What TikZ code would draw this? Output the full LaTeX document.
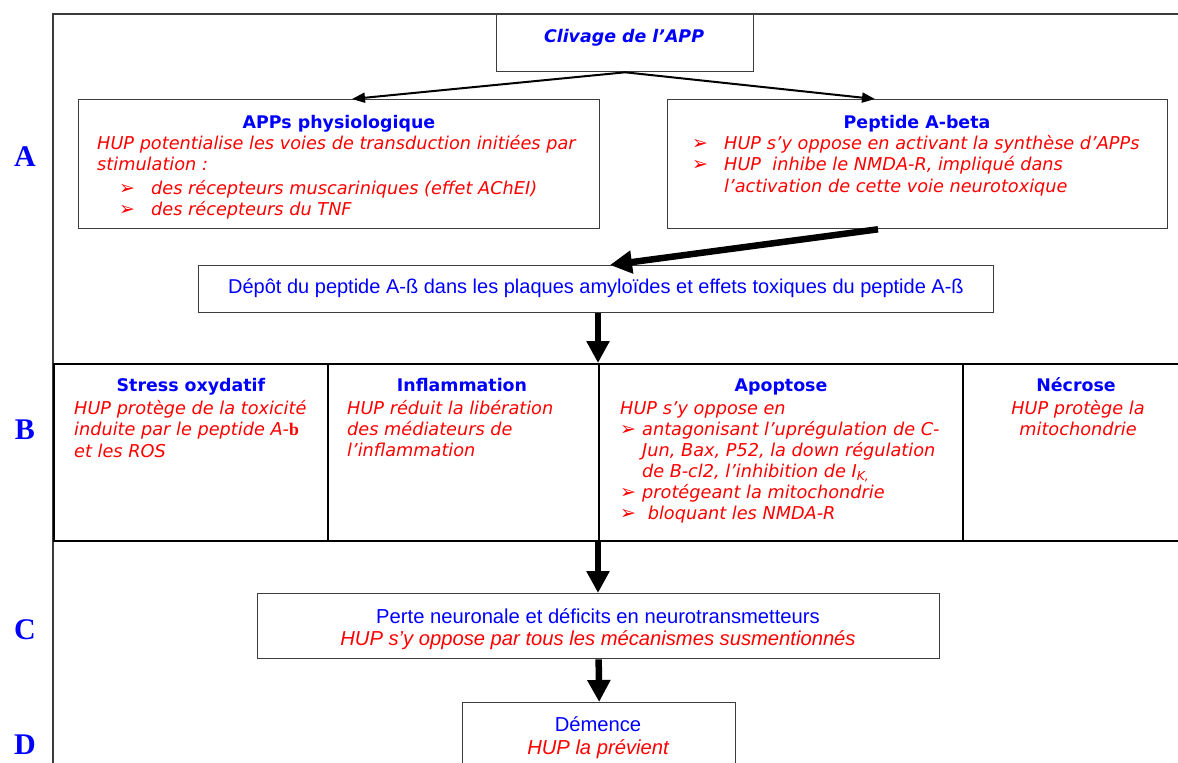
\documentclass[tikz,border=0pt]{standalone}
\usepackage{fontspec}
\setmainfont{DejaVu Sans}
\newfontfamily\ari{Liberation Sans}
\newfontfamily\tms{Liberation Serif}
\usetikzlibrary{arrows.meta,calc}
\definecolor{fblue}{RGB}{0,0,255}
\definecolor{fred}{RGB}{255,0,0}
\definecolor{fline}{RGB}{60,60,60}
\newcommand{\bulA}{\makebox[32pt][l]{\fontsize{19}{19}\selectfont\upshape ➢}}
\newcommand{\bulB}{\makebox[22pt][l]{\fontsize{19}{19}\selectfont\upshape ➢}}
\begin{document}
\begin{tikzpicture}[x=1pt,y=-1pt,
 box/.style={draw=fline,line width=1.3pt,inner sep=0pt,anchor=north west},
 cell/.style={draw=black,line width=1.6pt,inner sep=0pt,anchor=north west},
 ttl/.style={text=fblue,font=\fontsize{17.4}{20}\selectfont\bfseries,anchor=base,inner sep=0pt},
 bdy/.style={text=fred,font=\fontsize{17.7}{21}\selectfont\itshape,anchor=north west,inner sep=0pt,align=left},
 thinarr/.style={line width=2pt,-{Triangle[length=13pt,width=10pt]}},
 thickarr/.style={line width=6.5pt,-{Triangle[length=22pt,width=22pt]}},
 lbl/.style={text=fblue,font=\tms\fontsize{30}{30}\selectfont\bfseries,inner sep=0pt}]
\useasboundingbox (0,0) rectangle (1178,763);
\fill[white] (0,0) rectangle (1178,763);
% outer frame
\draw[fline,line width=1.5pt] (1200,14) -- (53,14) -- (53,800);
% boxes
\node[box,minimum width=257pt,minimum height=57pt] (cliv) at (496,14) {};
\node[box,minimum width=521pt,minimum height=129pt] (apps) at (78,99) {};
\node[box,minimum width=500pt,minimum height=129pt] (pep) at (667,99) {};
\node[box,minimum width=795pt,minimum height=47pt] (dep) at (198,265) {};
\node[cell,minimum width=274pt,minimum height=177pt] (stress) at (53,363) {};
\node[cell,minimum width=271pt,minimum height=177pt] (infl) at (327,363) {};
\node[cell,minimum width=364pt,minimum height=177pt] (apop) at (598,363) {};
\node[cell,minimum width=240pt,minimum height=177pt] (necr) at (962,363) {};
\node[box,minimum width=682pt,minimum height=65pt] (perte) at (257,593) {};
\node[box,minimum width=273pt,minimum height=90pt] (dem) at (462,702) {};
% connectors
\draw[thinarr] (cliv.south) -- ($(apps.north west)+(274,0)$);
\draw[thinarr] (cliv.south) -- ($(pep.north west)+(208,0)$);
\draw[thickarr] ($(pep.south west)+(211,0)$) -- ($(dep.north west)+(412,0)$);
\draw[thickarr] (dep.south -| apop.north west) -- (apop.north west);
\draw[thickarr] (apop.south west) -- (perte.north -| apop.south west);
\draw[thickarr] (perte.south) -- (dem.north);
% texts
\node[text=fblue,font=\fontsize{17.4}{20}\selectfont\bfseries\itshape,anchor=base,inner sep=0pt] (clivt) at (624,42) {Clivage de l’APP};
\node[ttl] (appst) at (339,128) {APPs physiologique};
\node[bdy] (appsb) at (97,135) {\rule{0pt}{14pt}HUP potentialise les voies de transduction initiées par\\
stimulation :\\[3pt]
\hspace*{22pt}\bulA des récepteurs muscariniques (effet AChEI)\\
\hspace*{22pt}\bulA des récepteurs du TNF};
\node[ttl] (pept) at (917,128) {Peptide A-beta};
\node[bdy] (pepb) at (692,135) {\rule{0pt}{14pt}\bulA HUP s’y oppose en activant la synthèse d’APPs\\
\bulA HUP\ \ inhibe le NMDA-R, impliqué dans\\[1pt]
\hspace*{32pt}l’activation de cette voie neurotoxique};
\node[text=fblue,font=\ari\fontsize{20}{22}\selectfont,anchor=base,inner sep=0pt] (dept) at (596,293) {Dépôt du peptide A-ß dans les plaques amyloïdes et effets toxiques du peptide A-ß};
\node[ttl] (stresst) at (191,391) {Stress oxydatif};
\node[bdy] (stressb) at (74,400) {\rule{0pt}{14pt}HUP protège de la toxicité\\
induite par le peptide A-{\tms\bfseries\upshape b}\\[1pt]
et les ROS};
\node[ttl] (inflt) at (462,391) {Inflammation};
\node[bdy] (inflb) at (347,400) {\rule{0pt}{14pt}HUP réduit la libération\\
des médiateurs de\\
l’inflammation};
\node[ttl] (apopt) at (781,391) {Apoptose};
\node[bdy] (apopb) at (620,400) {\rule{0pt}{14pt}HUP s’y oppose en\\
\bulB antagonisant l’uprégulation de C-\\
\hspace*{22pt}Jun, Bax, P52, la down régulation\\
\hspace*{22pt}de B-cl2, l’inhibition de I\textsubscript{K,}\\
\bulB protégeant la mitochondrie\\
\bulB\ bloquant les NMDA-R};
\node[ttl] (necrt) at (1076,391) {Nécrose};
\node[bdy,anchor=north,align=center] (necrb) at (1078,400) {\rule{0pt}{14pt}HUP protège la\\
mitochondrie};
\node[text=fblue,font=\ari\fontsize{20.2}{22}\selectfont,anchor=north,align=center,inner sep=0pt] (pertet) at (598,608) {\rule{0pt}{15pt}Perte neuronale et déficits en neurotransmetteurs\\
{\color{fred}\itshape HUP s’y oppose par tous les mécanismes susmentionnés}};
\node[text=fblue,font=\ari\fontsize{20.2}{23}\selectfont,anchor=north,align=center,inner sep=0pt] (demt) at (598,716) {\rule{0pt}{15pt}Démence\\
{\color{fred}\itshape HUP la prévient}};
% row labels
\node[lbl] (la) at (25,157) {A};
\node[lbl] (lb) at (25,430) {B};
\node[lbl] (lc) at (25,630) {C};
\node[lbl] (ld) at (25,745) {D};
\end{tikzpicture}
\end{document}
